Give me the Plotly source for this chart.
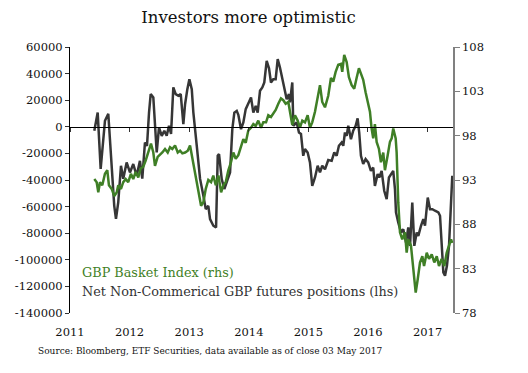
import datetime as dt
import plotly.graph_objects as go

# ---- data (decimal year, value) ----
cot_years = [2011.408, 2011.465, 2011.515, 2011.587, 2011.643, 2011.700, 2011.743, 2011.772, 2011.810, 2011.856,
             2011.894, 2011.951, 2012.007, 2012.062, 2012.119, 2012.174, 2012.213, 2012.258, 2012.292, 2012.326,
             2012.354, 2012.398, 2012.426, 2012.455, 2012.493, 2012.539, 2012.582, 2012.622, 2012.661, 2012.695,
             2012.733, 2012.773, 2012.817, 2012.857, 2012.901, 2012.930, 2012.968, 2013.002, 2013.042, 2013.069,
             2013.126, 2013.181, 2013.237, 2013.277, 2013.320, 2013.349, 2013.404, 2013.450, 2013.478, 2013.500,
             2013.545, 2013.589, 2013.646, 2013.685, 2013.723, 2013.757, 2013.797, 2013.824, 2013.869, 2013.908,
             2013.948, 2013.992, 2014.037, 2014.076, 2014.116, 2014.149, 2014.188, 2014.227, 2014.260, 2014.300,
             2014.339, 2014.372, 2014.411, 2014.451, 2014.485, 2014.523, 2014.562, 2014.596, 2014.636, 2014.674,
             2014.691, 2014.730, 2014.747, 2014.804, 2014.842, 2014.876, 2014.914, 2014.943, 2014.988, 2015.027,
             2015.065, 2015.111, 2015.156, 2015.195, 2015.233, 2015.279, 2015.334, 2015.391, 2015.435, 2015.475,
             2015.513, 2015.559, 2015.586, 2015.614, 2015.643, 2015.670, 2015.715, 2015.753, 2015.794, 2015.827,
             2015.854, 2015.883, 2015.921, 2015.961, 2016.005, 2016.050, 2016.089, 2016.117, 2016.163, 2016.190,
             2016.230, 2016.273, 2016.314, 2016.352, 2016.398, 2016.424, 2016.453, 2016.470, 2016.508, 2016.554,
             2016.592, 2016.638, 2016.676, 2016.705, 2016.743, 2016.777, 2016.817, 2016.844, 2016.889, 2016.928,
             2016.956, 2017.002, 2017.040, 2017.079, 2017.124, 2017.180, 2017.208, 2017.235, 2017.264, 2017.292,
             2017.324, 2017.359, 2017.393, 2017.414]
cot_positions = [-3000, 10700, -31600, 4500, 9800, -26800, -59400, -69200, -56900, -29300,
                 -39000, -26800, -34300, -28000, -36800, -25600, -39000, -11800, -14300, 10700,
                 24600, 22000, 3300, -19300, -500, -6800, -3000, -6800, 750, -5300,
                 29600, 24600, 23300, 24600, 2000, 17000, 28300, 35800, 28300, 10700,
                 -14300, -39000, -51900, -61900, -59400, -69400, -74400, -75700, -21800, -20500,
                 -39300, -46800, -39300, -34300, -1800, 10700, 12000, 9000, -1800, 3300,
                 13300, 18300, 22000, 10700, 15800, 10700, 27100, 29600, 33300, 49600,
                 44000, 33300, 35800, 35800, 50900, 44600, 35800, 28300, 20800, 24600,
                 18300, 33300, 750, 3300, -4300, -5300, -21800, -16800, -19300, -26800,
                 -44400, -38100, -29300, -34300, -29300, -32000, -25000, -25600, -19300, -21800,
                 -14300, -11800, -14300, -4300, -6800, 750, -9300, -3000, 750, 6300,
                 -4300, -21800, -28000, -24300, -26800, -33100, -30600, -44400, -35600, -38100,
                 -33100, -48100, -54400, -38100, -34300, -33100, -46900, -64400, -72000, -79500,
                 -77000, -87000, -75700, -89500, -56900, -89500, -79500, -82000, -74400, -69400,
                 -74400, -53200, -61900, -61900, -63100, -64400, -66900, -92000, -109500, -112000,
                 -104500, -89500, -56900, -36800]

gbp_years = [2011.408, 2011.448, 2011.475, 2011.503, 2011.542, 2011.587, 2011.626, 2011.654, 2011.700, 2011.743,
             2011.784, 2011.810, 2011.856, 2011.894, 2011.935, 2011.978, 2012.023, 2012.062, 2012.102, 2012.146,
             2012.186, 2012.230, 2012.270, 2012.314, 2012.359, 2012.398, 2012.426, 2012.471, 2012.510, 2012.549,
             2012.594, 2012.639, 2012.678, 2012.716, 2012.762, 2012.807, 2012.846, 2012.884, 2012.930, 2012.975,
             2013.013, 2013.042, 2013.086, 2013.126, 2013.164, 2013.198, 2013.237, 2013.277, 2013.320, 2013.366,
             2013.404, 2013.445, 2013.490, 2013.535, 2013.572, 2013.612, 2013.656, 2013.701, 2013.740, 2013.780,
             2013.824, 2013.869, 2013.908, 2013.948, 2013.992, 2014.037, 2014.076, 2014.116, 2014.159, 2014.205,
             2014.243, 2014.289, 2014.327, 2014.372, 2014.411, 2014.451, 2014.495, 2014.540, 2014.579, 2014.619,
             2014.663, 2014.708, 2014.730, 2014.775, 2014.820, 2014.859, 2014.898, 2014.943, 2014.988, 2015.027,
             2015.065, 2015.111, 2015.156, 2015.195, 2015.233, 2015.279, 2015.334, 2015.379, 2015.418, 2015.458,
             2015.502, 2015.547, 2015.569, 2015.602, 2015.643, 2015.681, 2015.727, 2015.770, 2015.810, 2015.849,
             2015.883, 2015.921, 2015.961, 2015.995, 2016.034, 2016.062, 2016.089, 2016.117, 2016.146, 2016.185,
             2016.218, 2016.257, 2016.285, 2016.331, 2016.369, 2016.398, 2016.424, 2016.465, 2016.481, 2016.508,
             2016.537, 2016.575, 2016.621, 2016.649, 2016.676, 2016.721, 2016.760, 2016.800, 2016.834, 2016.872,
             2016.911, 2016.940, 2016.985, 2017.023, 2017.069, 2017.112, 2017.153, 2017.191, 2017.235, 2017.280,
             2017.320, 2017.359, 2017.393, 2017.414]
gbp_index = [93.1, 92.75, 91.6, 92.75, 92.4, 93.7, 94.1, 92.4, 92.0, 91.2,
             91.6, 92.4, 92.0, 92.75, 93.1, 92.75, 93.7, 93.1, 93.9, 93.3,
             94.3, 94.5, 95.2, 96.1, 97.1, 96.1, 94.6, 95.6, 95.8, 96.1,
             96.5, 96.1, 96.7, 96.5, 96.9, 96.1, 96.3, 96.0, 96.1, 96.3,
             96.9, 95.8, 93.9, 92.4, 91.2, 90.1, 90.5, 92.0, 93.0, 92.75,
             93.5, 92.4, 93.5, 91.6, 92.4, 92.75, 94.1, 95.0, 96.1, 95.4,
             95.8, 96.9, 97.6, 97.2, 98.6, 98.9, 99.3, 99.1, 99.7, 98.9,
             99.5, 99.5, 100.3, 100.1, 100.5, 100.9, 101.6, 102.2, 102.0, 101.6,
             101.8, 100.3, 99.2, 100.3, 99.7, 98.9, 99.7, 99.5, 100.3, 98.9,
             99.5, 100.7, 102.2, 103.7, 101.8, 101.2, 102.5, 104.5, 104.1, 105.2,
             106.0, 106.1, 105.2, 107.1, 106.3, 104.6, 103.7, 103.3, 104.5, 105.6,
             105.0, 104.3, 102.9, 102.0, 100.7, 98.8, 97.7, 99.3, 97.3, 96.5,
             95.0, 96.1, 94.1, 95.8, 97.3, 97.7, 98.8, 97.7, 96.1, 90.5,
             87.1, 86.3, 87.1, 84.8, 86.3, 85.6, 83.3, 80.3, 81.8, 83.7,
             84.4, 83.3, 84.8, 84.1, 84.6, 83.7, 84.4, 83.3, 84.1, 83.3,
             84.8, 85.6, 86.3, 85.9]

year_ticks = [2011, 2012, 2013, 2014, 2015, 2016, 2017]
left_ticks = [60000, 40000, 20000, 0, -20000, -40000, -60000, -80000, -100000, -120000, -140000]
right_ticks = [78, 83, 88, 93, 98, 103, 108]

title_text = "Investors more optimistic"
gbp_label = "GBP Basket Index (rhs)"
cot_label = "Net Non-Commerical GBP futures positions (lhs)"
source_text = "Source: Bloomberg, ETF Securities, data available as of close 03 May 2017"


def to_date(y):
    yr = int(y)
    start = dt.datetime(yr, 1, 1)
    end = dt.datetime(yr + 1, 1, 1)
    return start + (end - start) * (y - yr)


GREEN = "#3f7f26"
DARK = "#363636"
FONT = "DejaVu Serif"
TICKFONT = dict(family=FONT, size=11.5, color="#111111")

fig = go.Figure()
fig.add_trace(go.Scatter(x=[to_date(v) for v in cot_years], y=cot_positions, mode="lines",
                         line=dict(color=DARK, width=2.5), yaxis="y", xaxis="x", name=cot_label,
                         showlegend=False))
fig.add_trace(go.Scatter(x=[to_date(v) for v in gbp_years], y=gbp_index, mode="lines",
                         line=dict(color=GREEN, width=2.5), yaxis="y2", xaxis="x2", name=gbp_label,
                         showlegend=False))

xr = [dt.datetime(2011, 1, 1), to_date(2017.426)]
tickvals = [dt.datetime(y, 1, 1) for y in year_ticks]

fig.update_layout(
    width=520, height=365,
    margin=dict(l=62, r=75, t=39, b=60),
    paper_bgcolor="white", plot_bgcolor="white",
    font=dict(family=FONT, color="#111111", size=12),
    title=dict(text=title_text, x=0.4625, xanchor="center", y=0.975, yanchor="middle",
               font=dict(family=FONT, size=16.5, color="#111111")),
    xaxis=dict(range=xr, anchor="free", position=0.7, showgrid=False, zeroline=False,
               showline=True, linecolor="black", linewidth=1.2, automargin=False,
               tickvals=tickvals, ticks="outside", ticklen=4, tickcolor="#333333",
               showticklabels=False),
    xaxis2=dict(range=xr, overlaying="x", anchor="y2", side="bottom", showgrid=False, automargin=False,
                zeroline=False, showline=False, tickvals=tickvals, ticktext=[str(y) for y in year_ticks],
                ticks="outside", ticklen=8, tickcolor="rgba(0,0,0,0)", tickfont=TICKFONT),
    yaxis=dict(range=[-140000, 60000], tickvals=left_ticks, ticktext=[str(v) for v in left_ticks],
               showgrid=False, zeroline=False, automargin=False,
               showline=True, linecolor="black", linewidth=1.2, ticks="outside", ticklen=4,
               tickcolor="#333333", tickfont=TICKFONT),
    yaxis2=dict(range=[78, 108], tickvals=right_ticks, overlaying="y", side="right", anchor="x2",
                showgrid=False, zeroline=False, showline=True, linecolor="#808080", linewidth=1.5,
                automargin=False, ticks="outside", ticklen=5, tickcolor="#808080", tickfont=TICKFONT),
)

fig.add_annotation(text=gbp_label, xref="paper", yref="paper", x=0.026, y=0.154, xanchor="left",
                   yanchor="middle", showarrow=False, font=dict(family=FONT, size=12.8, color=GREEN))
fig.add_annotation(text=cot_label, xref="paper", yref="paper", x=0.026, y=0.079, xanchor="left",
                   yanchor="middle", showarrow=False, font=dict(family=FONT, size=12.8, color="#333333"))
fig.add_annotation(text=source_text, xref="paper", yref="paper", x=-0.0888, y=-0.143, xanchor="left",
                   yanchor="middle", showarrow=False, font=dict(family=FONT, size=9, color="#111111"))

fig.write_html("out.html")
